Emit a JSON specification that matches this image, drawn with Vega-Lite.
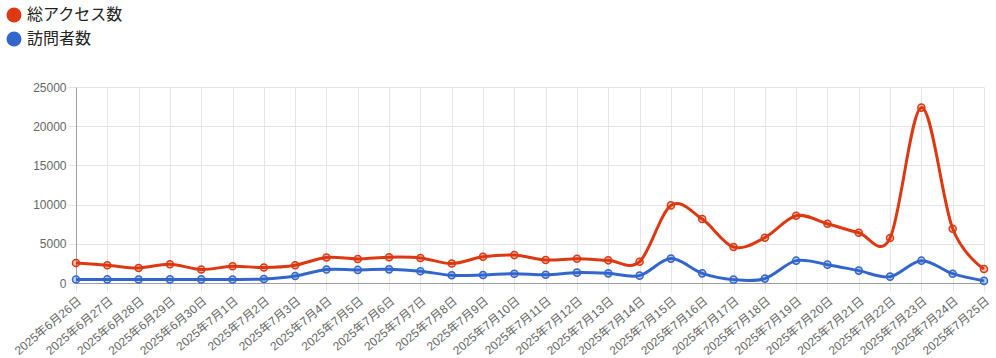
{
  "$schema": "https://vega.github.io/schema/vega-lite/v6.json",
  "width": 908,
  "height": 196,
  "autosize": "none",
  "padding": {"left": 76, "top": 87, "right": 12, "bottom": 75},
  "background": "white",
  "data": {"values": [
    {"date": "2025年6月26日", "series": "総アクセス数", "value": 2560},
    {"date": "2025年6月27日", "series": "総アクセス数", "value": 2270},
    {"date": "2025年6月28日", "series": "総アクセス数", "value": 1920},
    {"date": "2025年6月29日", "series": "総アクセス数", "value": 2390},
    {"date": "2025年6月30日", "series": "総アクセス数", "value": 1720},
    {"date": "2025年7月1日", "series": "総アクセス数", "value": 2140},
    {"date": "2025年7月2日", "series": "総アクセス数", "value": 1970},
    {"date": "2025年7月3日", "series": "総アクセス数", "value": 2270},
    {"date": "2025年7月4日", "series": "総アクセス数", "value": 3250},
    {"date": "2025年7月5日", "series": "総アクセス数", "value": 3070},
    {"date": "2025年7月6日", "series": "総アクセス数", "value": 3290},
    {"date": "2025年7月7日", "series": "総アクセス数", "value": 3200},
    {"date": "2025年7月8日", "series": "総アクセス数", "value": 2480},
    {"date": "2025年7月9日", "series": "総アクセス数", "value": 3340},
    {"date": "2025年7月10日", "series": "総アクセス数", "value": 3560},
    {"date": "2025年7月11日", "series": "総アクセス数", "value": 2930},
    {"date": "2025年7月12日", "series": "総アクセス数", "value": 3100},
    {"date": "2025年7月13日", "series": "総アクセス数", "value": 2890},
    {"date": "2025年7月14日", "series": "総アクセス数", "value": 2720},
    {"date": "2025年7月15日", "series": "総アクセス数", "value": 9900},
    {"date": "2025年7月16日", "series": "総アクセス数", "value": 8160},
    {"date": "2025年7月17日", "series": "総アクセス数", "value": 4590},
    {"date": "2025年7月18日", "series": "総アクセス数", "value": 5780},
    {"date": "2025年7月19日", "series": "総アクセス数", "value": 8580},
    {"date": "2025年7月20日", "series": "総アクセス数", "value": 7560},
    {"date": "2025年7月21日", "series": "総アクセス数", "value": 6410},
    {"date": "2025年7月22日", "series": "総アクセス数", "value": 5730},
    {"date": "2025年7月23日", "series": "総アクセス数", "value": 22370},
    {"date": "2025年7月24日", "series": "総アクセス数", "value": 6920},
    {"date": "2025年7月25日", "series": "総アクセス数", "value": 1790},
    {"date": "2025年6月26日", "series": "訪問者数", "value": 450},
    {"date": "2025年6月27日", "series": "訪問者数", "value": 460},
    {"date": "2025年6月28日", "series": "訪問者数", "value": 440},
    {"date": "2025年6月29日", "series": "訪問者数", "value": 460},
    {"date": "2025年6月30日", "series": "訪問者数", "value": 460},
    {"date": "2025年7月1日", "series": "訪問者数", "value": 450},
    {"date": "2025年7月2日", "series": "訪問者数", "value": 510},
    {"date": "2025年7月3日", "series": "訪問者数", "value": 890},
    {"date": "2025年7月4日", "series": "訪問者数", "value": 1720},
    {"date": "2025年7月5日", "series": "訪問者数", "value": 1670},
    {"date": "2025年7月6日", "series": "訪問者数", "value": 1740},
    {"date": "2025年7月7日", "series": "訪問者数", "value": 1500},
    {"date": "2025年7月8日", "series": "訪問者数", "value": 980},
    {"date": "2025年7月9日", "series": "訪問者数", "value": 1020},
    {"date": "2025年7月10日", "series": "訪問者数", "value": 1190},
    {"date": "2025年7月11日", "series": "訪問者数", "value": 1060},
    {"date": "2025年7月12日", "series": "訪問者数", "value": 1320},
    {"date": "2025年7月13日", "series": "訪問者数", "value": 1230},
    {"date": "2025年7月14日", "series": "訪問者数", "value": 940},
    {"date": "2025年7月15日", "series": "訪問者数", "value": 3110},
    {"date": "2025年7月16日", "series": "訪問者数", "value": 1230},
    {"date": "2025年7月17日", "series": "訪問者数", "value": 430},
    {"date": "2025年7月18日", "series": "訪問者数", "value": 560},
    {"date": "2025年7月19日", "series": "訪問者数", "value": 2850},
    {"date": "2025年7月20日", "series": "訪問者数", "value": 2340},
    {"date": "2025年7月21日", "series": "訪問者数", "value": 1580},
    {"date": "2025年7月22日", "series": "訪問者数", "value": 810},
    {"date": "2025年7月23日", "series": "訪問者数", "value": 2850},
    {"date": "2025年7月24日", "series": "訪問者数", "value": 1190},
    {"date": "2025年7月25日", "series": "訪問者数", "value": 270}
  ]},
  "encoding": {
    "x": {
      "field": "date", "type": "ordinal", "sort": null,
      "scale": {"type": "point", "padding": 0},
      "axis": {"title": null, "labelAngle": -40, "labelFontSize": 12, "labelColor": "#666",
               "labelFont": "Liberation Sans, Noto Sans CJK JP", "tickSize": 8, "tickColor": "#e4e4e4",
               "domainColor": "#a0a0a0", "grid": true, "gridColor": "#e4e4e4", "labelPadding": 4}
    },
    "y": {
      "field": "value", "type": "quantitative",
      "scale": {"domain": [0, 25000], "nice": false},
      "axis": {"title": null, "values": [0, 5000, 10000, 15000, 20000, 25000], "format": "d",
               "labelFontSize": 12, "labelColor": "#666", "labelFont": "Liberation Sans",
               "tickSize": 8, "tickColor": "#e4e4e4", "domainColor": "#a0a0a0", "gridColor": "#e4e4e4",
               "labelPadding": 2}
    }
  },
  "layer": [
    {
      "mark": {"type": "line", "interpolate": "cardinal", "strokeWidth": 3},
      "encoding": {
        "color": {
          "field": "series", "type": "nominal",
          "scale": {"domain": ["総アクセス数", "訪問者数"], "range": ["#dc3912", "#3366cc"]},
          "legend": {
            "title": null, "orient": "none", "legendX": -70, "legendY": -80, "padding": 0,
            "symbolType": "circle", "symbolSize": 225, "symbolStrokeWidth": 0,
            "labelFontSize": 16, "labelFont": "Noto Sans CJK JP", "labelColor": "#222",
            "labelOffset": 5, "rowPadding": 8,
            "encode": {"symbols": {"update": {"fill": {"scale": "color", "field": "value"}, "opacity": {"value": 1}, "fillOpacity": {"value": 1}}}}
          }
        }
      }
    },
    {
      "mark": {"type": "point", "shape": "circle", "size": 50, "filled": true, "fillOpacity": 0.3, "strokeWidth": 1.5, "strokeOpacity": 1},
      "encoding": {
        "fill": {"field": "series", "type": "nominal", "scale": {"domain": ["総アクセス数", "訪問者数"], "range": ["#dc3912", "#3366cc"]}, "legend": null},
        "stroke": {"field": "series", "type": "nominal", "scale": {"domain": ["総アクセス数", "訪問者数"], "range": ["#dc3912", "#3366cc"]}, "legend": null}
      }
    }
  ],
  "config": {"view": {"stroke": null}}
}
